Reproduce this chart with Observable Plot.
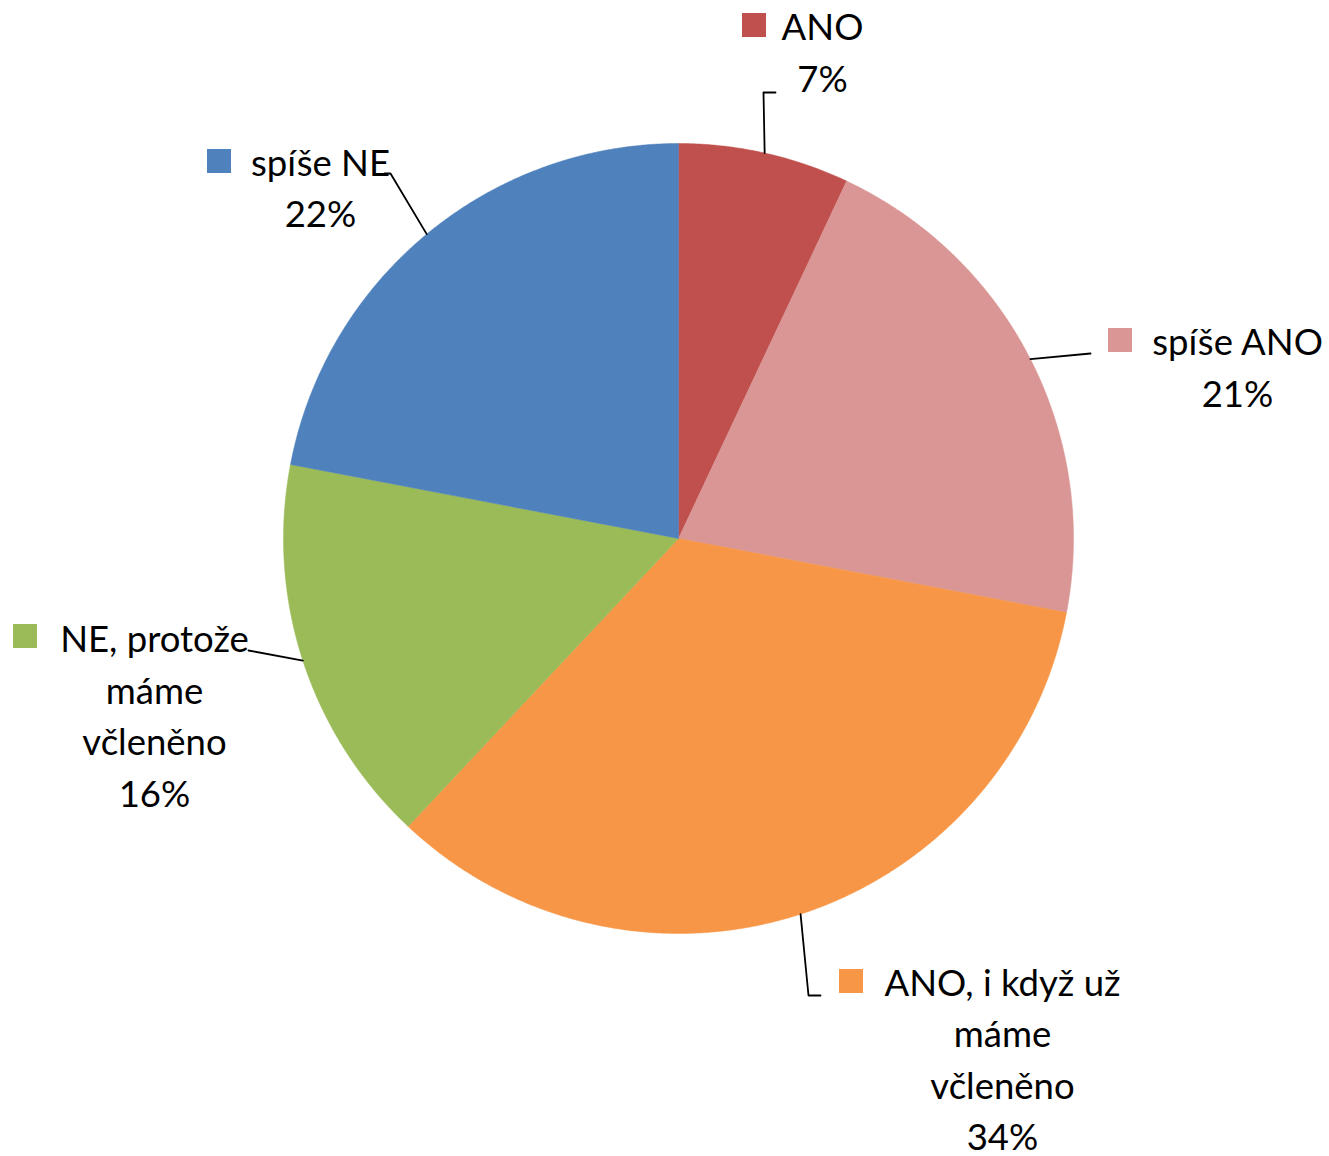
<!DOCTYPE html>
<html><head><meta charset="utf-8">
<script src="https://cdn.jsdelivr.net/npm/d3@7"></script>
<script src="https://cdn.jsdelivr.net/npm/@observablehq/plot@0.6"></script>
<style>body{margin:0;background:#fff;overflow:hidden}</style>
</head><body><div id="chart"></div>
<script>
// ---- data ----
const categories = ["ANO", "spíše ANO", "ANO, i když už máme včleněno", "NE, protože máme včleněno", "spíše NE"];
const values = [7, 21, 34, 16, 22];
const percentLabels = ["7%", "21%", "34%", "16%", "22%"];
const labelLines = [["ANO"], ["spíše ANO"], ["ANO, i když už", "máme", "včleněno"], ["NE, protože", "máme", "včleněno"], ["spíše NE"]];
const colors = ["#C0504D", "#D99694", "#F79646", "#9BBB59", "#4F81BD"];

// ---- layout ----
const W = 1329, H = 1156, cx = 678, cy = 538, R = 395;
const FONT = "Lato, 'Open Sans', sans-serif";
const FS = 36.5, LH = 51.5 / 36.5;
const layout = [
  {tx: 822, ty: 49, key: [754, 25], leader: [[763, 92], [775, 92]]},
  {tx: 1237, ty: 364, key: [1120, 340], leader: [[1090, 353]]},
  {tx: 1002, ty: 1056, key: [851, 981], leader: [[808, 995], [820, 995]]},
  {tx: 154, ty: 712.5, key: [25, 636], leader: [[248, 650]]},
  {tx: 320, ty: 184.5, key: [219, 161], leader: [[390, 173], [384, 173]]}
];

const arcs = d3.pie().sort(null)(values);
const pt = (a, r) => ({x: cx + r * Math.sin(a), y: cy - r * Math.cos(a)});

const slicePts = [];
arcs.forEach((a, i) => {
  const n = Math.max(2, Math.ceil((a.endAngle - a.startAngle) / 0.005));
  slicePts.push({cat: categories[i], color: colors[i], ...pt(0, 0)});
  for (let k = 0; k <= n; k++) {
    const ang = a.startAngle + (a.endAngle - a.startAngle) * k / n;
    slicePts.push({cat: categories[i], color: colors[i], ...pt(ang, R)});
  }
  slicePts.push({cat: categories[i], color: colors[i], ...pt(0, 0)});
});

const leaderPts = [];
arcs.forEach((a, i) => {
  const mid = (a.startAngle + a.endAngle) / 2;
  leaderPts.push({cat: categories[i], ...pt(mid, R)});
  layout[i].leader.forEach(([x, y]) => leaderPts.push({cat: categories[i], x, y}));
});

const labels = categories.map((c, i) => ({
  cat: c,
  text: [...labelLines[i], percentLabels[i]].join("\n"),
  x: layout[i].tx, y: layout[i].ty
}));
const keys = categories.map((c, i) => ({
  cat: c, color: colors[i],
  x1: layout[i].key[0] - 12, x2: layout[i].key[0] + 12,
  y1: layout[i].key[1] - 12, y2: layout[i].key[1] + 12
}));

const chart = Plot.plot({
  width: W, height: H, margin: 0,
  x: {domain: [0, W], range: [0, W], axis: null},
  y: {domain: [0, H], range: [0, H], axis: null},
  color: {type: "identity"},
  style: {background: "#fff", fontFamily: FONT},
  marks: [
    Plot.line(slicePts, {x: "x", y: "y", z: "cat", fill: "color", stroke: "color", strokeWidth: 0.5, curve: "linear"}),
    Plot.line(leaderPts, {x: "x", y: "y", z: "cat", stroke: "black", strokeWidth: 1.8, curve: "linear"}),
    Plot.rect(keys, {x1: "x1", x2: "x2", y1: "y1", y2: "y2", fill: "color"}),
    Plot.text(labels, {x: "x", y: "y", text: "text", fontSize: FS, lineHeight: LH, textAnchor: "middle", lineAnchor: "middle", fill: "black", fontFamily: FONT})
  ]
});
document.getElementById("chart").appendChild(chart);
</script>
</body></html>
